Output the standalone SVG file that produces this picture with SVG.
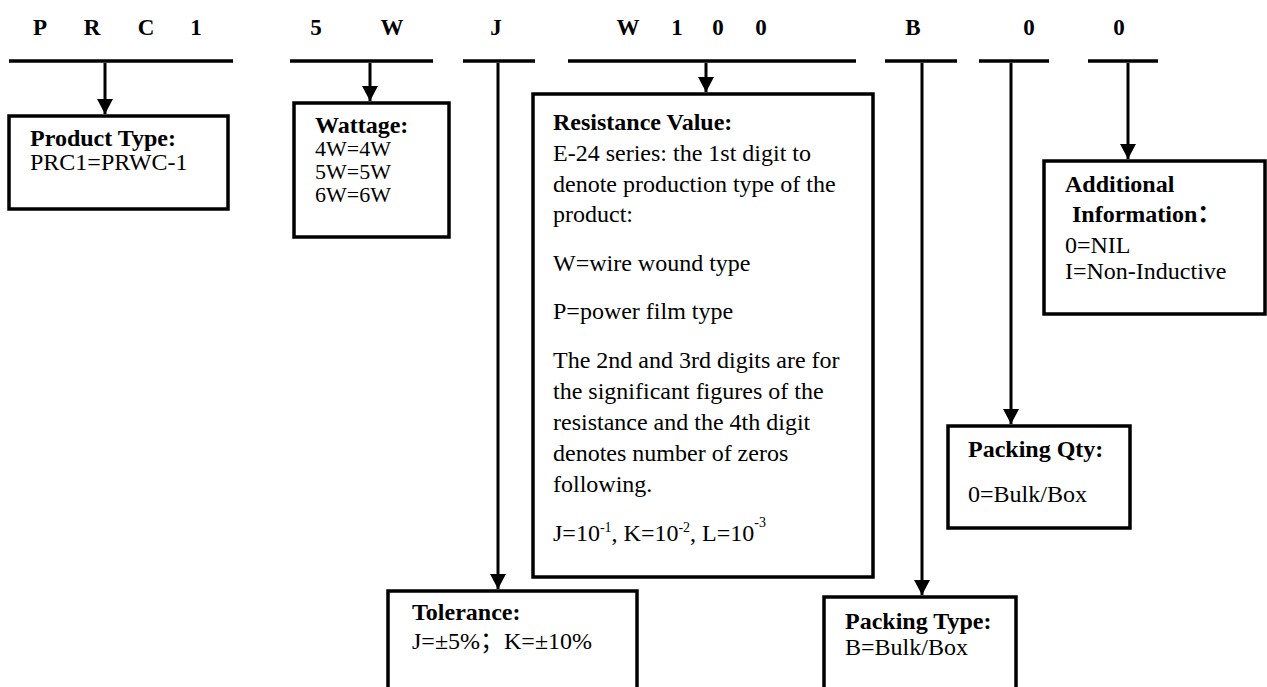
<svg xmlns="http://www.w3.org/2000/svg" width="1267" height="687" viewBox="0 0 1267 687">
<style>
  .hd { font-family: "Liberation Serif", "Times New Roman", serif; font-weight: bold; font-size: 23px; fill: #000; text-anchor: middle; }
  .t { font-family: "Liberation Serif", "Times New Roman", "Noto Sans CJK SC", serif; font-size: 24px; fill: #000; }
  .s { font-size: 22px; }
  .b { font-weight: bold; }
  .box { fill: #fff; stroke: #000; stroke-width: 3.5; }
  .bar { stroke: #000; stroke-width: 3.5; fill: none; }
  .ln { stroke: #000; stroke-width: 3; fill: none; marker-end: url(#ah); }
</style>
<defs>
  <marker id="ah" markerUnits="userSpaceOnUse" markerWidth="16" markerHeight="16" refX="15" refY="8" orient="auto">
    <path d="M0,0 L15,8 L0,16 Z" fill="#000"/>
  </marker>
</defs>
<rect width="1267" height="687" fill="#fff"/>

<g id="header">
  <text class="hd" x="40" y="35">P</text>
  <text class="hd" x="92" y="35">R</text>
  <text class="hd" x="146" y="35">C</text>
  <text class="hd" x="196" y="35">1</text>
  <text class="hd" x="316" y="35">5</text>
  <text class="hd" x="392" y="35">W</text>
  <text class="hd" x="496" y="35">J</text>
  <text class="hd" x="628" y="35">W</text>
  <text class="hd" x="677" y="35">1</text>
  <text class="hd" x="718" y="35">0</text>
  <text class="hd" x="761" y="35">0</text>
  <text class="hd" x="913" y="35">B</text>
  <text class="hd" x="1029" y="35">0</text>
  <text class="hd" x="1119" y="35">0</text>
</g>

<g id="connectors">
  <line class="bar" x1="9" y1="61" x2="233" y2="61"/>
  <line class="bar" x1="290" y1="61" x2="433" y2="61"/>
  <line class="bar" x1="463" y1="61" x2="535" y2="61"/>
  <line class="bar" x1="568" y1="61" x2="856" y2="61"/>
  <line class="bar" x1="885" y1="61" x2="957" y2="61"/>
  <line class="bar" x1="979" y1="61" x2="1049" y2="61"/>
  <line class="bar" x1="1088" y1="61" x2="1158" y2="61"/>
  <line class="ln" x1="105" y1="63" x2="105" y2="114"/>
  <line class="ln" x1="370" y1="63" x2="370" y2="101"/>
  <line class="ln" x1="498" y1="63" x2="498" y2="589"/>
  <line class="ln" x1="706" y1="63" x2="706" y2="92"/>
  <line class="ln" x1="922" y1="63" x2="922" y2="595"/>
  <line class="ln" x1="1011" y1="63" x2="1011" y2="424"/>
  <line class="ln" x1="1128" y1="63" x2="1128" y2="159"/>
</g>

<g id="product-type">
  <rect class="box" x="9" y="116" width="219" height="93"/>
  <text class="t b" x="30" y="146">Product Type:</text>
  <text class="t" x="30" y="170">PRC1=PRWC-1</text>
</g>

<g id="wattage">
  <rect class="box" x="294" y="103" width="155" height="134"/>
  <text class="t b" x="315" y="133">Wattage:</text>
  <text class="t s" x="315" y="156">4W=4W</text>
  <text class="t s" x="315" y="179">5W=5W</text>
  <text class="t s" x="315" y="202">6W=6W</text>
</g>

<g id="resistance-value">
  <rect class="box" x="533" y="94" width="340" height="483"/>
  <text class="t b" x="553" y="130">Resistance Value:</text>
  <text class="t" x="553" y="161">E-24 series: the 1st digit to</text>
  <text class="t" x="553" y="192">denote production type of the</text>
  <text class="t" x="553" y="222">product:</text>
  <text class="t" x="553" y="271">W=wire wound type</text>
  <text class="t" x="553" y="319">P=power film type</text>
  <text class="t" x="553" y="368">The 2nd and 3rd digits are for</text>
  <text class="t" x="553" y="399">the significant figures of the</text>
  <text class="t" x="553" y="430">resistance and the 4th digit</text>
  <text class="t" x="553" y="461">denotes number of zeros</text>
  <text class="t" x="553" y="492">following.</text>
  <text class="t" x="553" y="541">J=10<tspan font-size="14" dy="-9">-1</tspan><tspan dy="9">, K=10</tspan><tspan font-size="14" dy="-9">-2</tspan><tspan dy="9">, L=10</tspan><tspan font-size="14" dy="-14">-3</tspan></text>
</g>

<g id="additional-information">
  <rect class="box" x="1044" y="161" width="221" height="153"/>
  <text class="t b" x="1065" y="192">Additional</text>
  <text class="t b" x="1072" y="222">Information：</text>
  <text class="t" x="1065" y="253">0=NIL</text>
  <text class="t" x="1065" y="279">I=Non-Inductive</text>
</g>

<g id="packing-qty">
  <rect class="box" x="948" y="426" width="182" height="102"/>
  <text class="t b" x="968" y="457">Packing Qty:</text>
  <text class="t" x="968" y="502">0=Bulk/Box</text>
</g>

<g id="packing-type">
  <rect class="box" x="824" y="597" width="192" height="110"/>
  <text class="t b" x="845" y="629">Packing Type:</text>
  <text class="t" x="845" y="655">B=Bulk/Box</text>
</g>

<g id="tolerance">
  <rect class="box" x="388" y="591" width="249" height="116"/>
  <text class="t b" x="412" y="620">Tolerance:</text>
  <text class="t" x="412" y="649">J=±5%；K=±10%</text>
</g>
</svg>
